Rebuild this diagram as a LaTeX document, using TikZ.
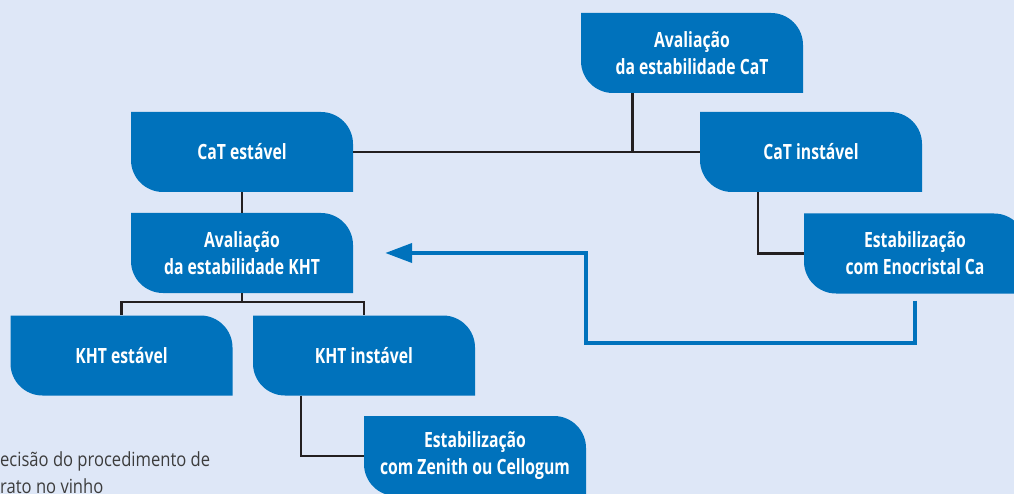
\documentclass[tikz,border=0pt]{standalone}
\usepackage{fontspec}
\setmainfont{Open Sans}[FakeStretch=0.75]
\newfontfamily\notafont{Open Sans}[FakeStretch=0.85]
\usetikzlibrary{arrows.meta}
\definecolor{fundo}{RGB}{222,231,247}
\definecolor{azul}{RGB}{0,114,188}
\definecolor{traco}{RGB}{35,31,32}
\definecolor{cinza}{RGB}{60,60,60}
\tikzset{
  caixa/.style={minimum width=222pt, minimum height=80pt, inner sep=0pt, align=center,
    text=white, font=\bfseries\fontsize{21}{27}\selectfont, fill=fundo,
    path picture={\fill[azul] (path picture bounding box.north west)
      -- ([xshift=-32pt]path picture bounding box.north east) arc[start angle=90,end angle=0,radius=32pt]
      -- (path picture bounding box.south east)
      -- ([xshift=32pt]path picture bounding box.south west) arc[start angle=270,end angle=180,radius=32pt]
      -- cycle;}},
  linha/.style={draw=traco, line width=2.2pt},
  seta/.style={draw=azul, line width=4pt, -{Triangle[length=27pt,width=19pt]}}
}
\begin{document}
\begin{tikzpicture}[x=1pt,y=-1pt]
      \fill[fundo] (0,0) rectangle (1014,494);
      \useasboundingbox (0,0) rectangle (1014,494);
      \node[caixa] (avalCaT) at (692,53) {Avaliação\\da estabilidade CaT};
      \node[caixa] (catEst) at (242,152) {CaT estável};
      \node[caixa] (catInst) at (811,152) {CaT instável};
      \node[caixa] (avalKHT) at (242,253) {Avaliação\\da estabilidade KHT};
      \node[caixa] (enocr) at (915,253.5) {Estabilização\\com Enocristal Ca};
      \node[caixa] (khtEst) at (121.5,355.5) {KHT estável};
      \node[caixa] (khtInst) at (364,355.5) {KHT instável};
      \node[caixa] (zenith) at (475,456) {Estabilização\\com Zenith ou Cellogum};
      \node[anchor=base west, inner sep=0pt, align=left, text=cinza, font=\notafont\fontsize{19.5}{27}\selectfont] (nota) at (0,493) {ecisão do procedimento de\\rato no vinho};

      \draw[linha] ([xshift=-59.5pt]avalCaT.south) -- ([xshift=-59.5pt]avalCaT.south |- catEst.east);
      \draw[linha] (catEst.east) -- (catInst.west);
      \draw[linha] (catEst.south) -- (avalKHT.north);
      \draw[linha] (avalKHT.south) -- ++(0,9) -| (khtEst.north);
      \draw[linha] (avalKHT.south) -- ++(0,9) -| (khtInst.north);
      \draw[linha] ([xshift=-53pt]catInst.south) |- (enocr.west);
      \draw[linha] ([xshift=-63pt]khtInst.south) |- (zenith.west);
      \draw[seta] ([yshift=-7pt]enocr.south) -- ++(0,42) -| ([xshift=233pt]avalKHT.east) -- ([xshift=32pt]avalKHT.east);
\end{tikzpicture}
\end{document}
